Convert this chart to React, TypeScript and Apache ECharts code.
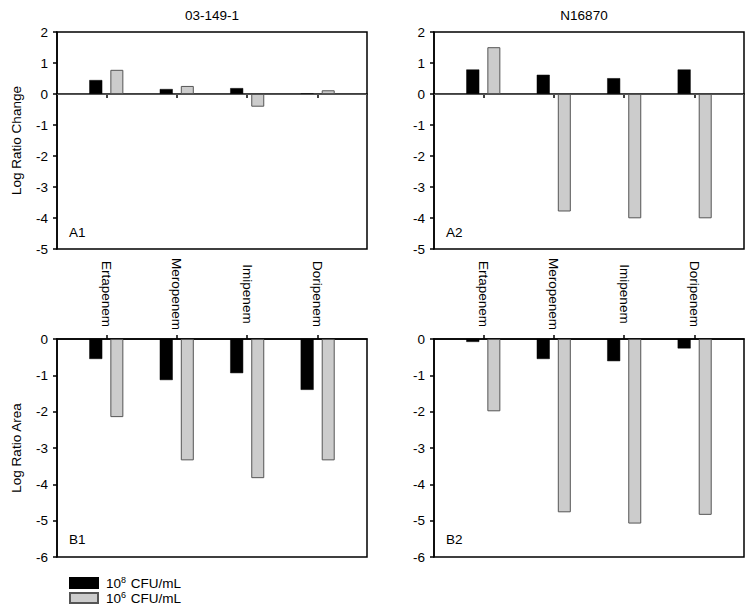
import React, { useEffect, useRef } from "react";
import * as echarts from "echarts";

const categories = ["Ertapenem", "Meropenem", "Imipenem", "Doripenem"];
const categoryPositions = [1, 2, 3, 4];
const seriesNames = ["10⁸ CFU/mL", "10⁶ CFU/mL"];
const panelTitles = ["03-149-1", "N16870"];
const panelLabels = ["A1", "A2", "B1", "B2"];

// Log Ratio Change
const a1High = [0.45, 0.16, 0.19, 0.01];
const a1Low = [0.78, 0.26, -0.41, 0.12];
const a2High = [0.79, 0.62, 0.51, 0.79];
const a2Low = [1.51, -3.79, -4.01, -4.01];
// Log Ratio Area
const b1High = [-0.55, -1.13, -0.94, -1.4];
const b1Low = [-2.15, -3.34, -3.83, -3.34];
const b2High = [-0.08, -0.55, -0.61, -0.26];
const b2Low = [-1.99, -4.77, -5.08, -4.84];

const FONT = '"Liberation Sans", Arial, sans-serif';
const FS = 13.5;

export default function App() {
  const ref = useRef<HTMLDivElement>(null);
  useEffect(() => {
    document.body.style.margin = "0";
    if (!ref.current) return;
    const chart = echarts.init(ref.current, undefined, { renderer: "svg" });

    const grids = [
      { left: 57, top: 32, width: 310, height: 217 },
      { left: 434, top: 32, width: 310, height: 217 },
      { left: 57, top: 339, width: 310, height: 218 },
      { left: 434, top: 339, width: 310, height: 218 },
    ].map((g) => ({
      ...g,
      show: true,
      borderColor: "#000",
      borderWidth: 1.5,
      backgroundColor: "#fff",
      outerBoundsMode: "none",
    }));

    const lineStyle = { color: "#000", width: 1.5 };

    const xAxes = [0, 1, 2, 3].map((i) => {
      const isTop = i < 2;
      return {
        type: "value",
        gridIndex: i,
        min: 0.3,
        max: 4.7,
        position: isTop ? "bottom" : "top",
        splitLine: { show: false },
        axisLine: { show: true, lineStyle },
        axisTick: {
          show: true,
          inside: false,
          length: 4,
          lineStyle,
          customValues: categoryPositions,
        },
        axisLabel: {
          show: isTop,
          customValues: categoryPositions,
          rotate: -90,
          margin: 45,
          align: "center",
          verticalAlign: "middle",
          color: "#000",
          fontSize: FS,
          fontFamily: FONT,
          formatter: (v: number) => categories[Math.round(v) - 1] ?? "",
        },
      };
    });

    const yAxes = [0, 1, 2, 3].map((i) => {
      const isTop = i < 2;
      return {
        type: "value",
        gridIndex: i,
        min: isTop ? -5 : -6,
        max: isTop ? 2 : 0,
        interval: 1,
        name: i === 0 ? "Log Ratio Change" : i === 2 ? "Log Ratio Area" : "",
        nameLocation: "middle",
        nameGap: 34,
        nameTextStyle: { color: "#000", fontSize: FS, fontFamily: FONT },
        splitLine: { show: false },
        axisLine: { show: true, lineStyle },
        axisTick: { show: true, inside: false, length: 4, lineStyle },
        axisLabel: {
          color: "#000",
          fontSize: FS,
          fontFamily: FONT,
          margin: 9,
        },
      };
    });

    const panelData = [
      [a1High, a1Low],
      [a2High, a2Low],
      [b1High, b1Low],
      [b2High, b2Low],
    ];

    const series: any[] = [];
    panelData.forEach(([hi, lo], i) => {
      series.push({
        type: "bar",
        name: seriesNames[0],
        xAxisIndex: i,
        yAxisIndex: i,
        barWidth: 13,
        barGap: "62%",
        itemStyle: { color: "#000", borderColor: "#000", borderWidth: 0.5 },
        data: hi.map((v, k) => [categoryPositions[k], v]),
      });
      series.push({
        type: "bar",
        name: seriesNames[1],
        xAxisIndex: i,
        yAxisIndex: i,
        barWidth: 13,
        barGap: "62%",
        itemStyle: { color: "#cccccc", borderColor: "#555", borderWidth: 1 },
        data: lo.map((v, k) => [categoryPositions[k], v]),
        markLine:
          i < 2
            ? {
                silent: true,
                symbol: "none",
                label: { show: false },
                lineStyle: { color: "#555", width: 1, type: "solid" },
                data: [{ yAxis: 0 }],
              }
            : undefined,
      });
    });

    const txt = (text: string, x: number, y: number, align = "left") => ({
      type: "text",
      x,
      y,
      style: {
        text,
        font: `${FS}px ${FONT}`,
        fill: "#000",
        align,
        verticalAlign: "middle",
      },
      z: 100,
    });

    chart.setOption({
      animation: false,
      backgroundColor: "#fff",
      grid: grids,
      xAxis: xAxes,
      yAxis: yAxes,
      series,
      legend: {
        data: seriesNames,
        orient: "vertical",
        left: 69,
        top: 575,
        itemWidth: 28,
        itemHeight: 10,
        itemGap: 0,
        padding: 0,
        icon: "rect",
        textStyle: {
          color: "#000",
          fontSize: FS,
          fontFamily: FONT,
          padding: [0, 0, 0, 3],
          rich: {
            base: { fontSize: FS, fontFamily: FONT, color: "#000", lineHeight: 16 },
            sup: { fontSize: 9, fontFamily: FONT, color: "#000", verticalAlign: "top", lineHeight: 16, padding: [0, 1, 0, 0] },
          },
        },
        formatter: (name: string) => {
          const exp = name.includes("⁸") ? "8" : "6";
          return `{base|10}{sup|${exp}}{base| CFU/mL}`;
        },
      },
      graphic: [
        txt(panelTitles[0], 212, 15, "center"),
        txt(panelTitles[1], 584, 15, "center"),
        txt(panelLabels[0], 69, 232),
        txt(panelLabels[1], 446, 232),
        txt(panelLabels[2], 69, 539),
        txt(panelLabels[3], 446, 539),
      ],
    });

    return () => chart.dispose();
  }, []);

  return <div ref={ref} style={{ width: 754, height: 614 }} />;
}
